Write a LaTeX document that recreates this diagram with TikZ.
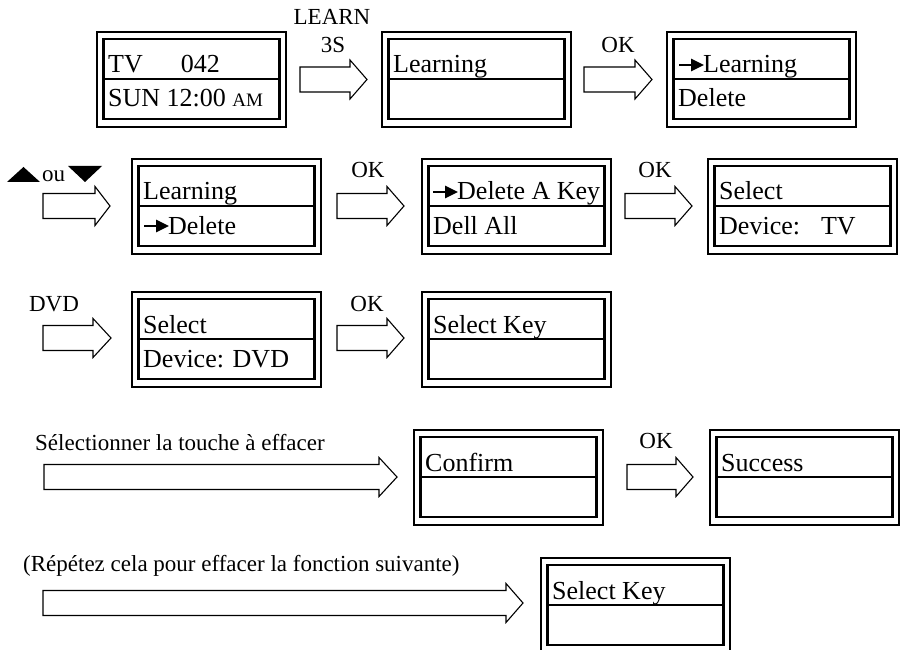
\documentclass[tikz,border=0pt]{standalone}
\usepackage{fontspec}
\setmainfont{Liberation Serif}
\usetikzlibrary{arrows.meta}
\tikzset{
  outerframe/.style={draw=black, line width=1.6pt},
  innerbox/.style={draw=black, line width=2.4pt, minimum width=176pt, minimum height=80pt, inner sep=0pt, outer sep=0pt},
  divider/.style={draw=black, line width=2pt},
  scrtext/.style={anchor=base west, inner sep=0pt, font=\fontsize{26}{26}\selectfont},
  lbl/.style={anchor=base, inner sep=0pt, font=\fontsize{23}{23}\selectfont},
  lblw/.style={anchor=base west, inner sep=0pt, font=\fontsize{23}{23}\selectfont},
  blockarrow/.style={draw=black, line width=1.1pt, fill=white},
  selarrow/.style={draw=black, line width=2.6pt, -{Triangle[length=13pt,width=12pt]}},
  tri/.style={fill=black, draw=none}
}
% name, x, y, line1, line2
\newcommand\screenbox[5]{%
  \draw[outerframe] (#2,#3) rectangle ++(189,95);
  \node[innerbox, anchor=north west] (#1) at (#2+6.5,#3+7) {};
  \draw[divider] (#1.west) -- (#1.east);
  \node[scrtext] (#1-a) at (#2+11,#3+41) {#4};
  \node[scrtext] (#1-b) at (#2+11,#3+75) {#5};
}
% name, x0, head start, tip, yc
\newcommand\blockarr[5]{%
  \coordinate (#1) at (#2,#5);
  \draw[blockarrow] (#1) ++(0,-12.5) -- (#3,#5-12.5) -- (#3,#5-19.5) -- (#4,#5)
     -- (#3,#5+19.5) -- (#3,#5+12.5) -- (#2,#5+12.5) -- cycle;
}
\begin{document}
\begin{tikzpicture}[x=1pt,y=-1pt]
\useasboundingbox (0,0) rectangle (900,650);

% Row 1
\screenbox{A}{97}{32}{TV\hspace{38pt}042}{SUN 12:00 {\fontsize{19}{19}\selectfont AM}}
\blockarr{a1}{300}{350}{367}{79.5}
\node[lbl] (l1) at (332,25) {LEARN};
\node[lbl] (l2) at (333,53) {3S};
\screenbox{B}{382}{32}{Learning}{}
\blockarr{a2}{584}{635}{652}{79.5}
\node[lbl] (l3) at (618,53) {OK};
\screenbox{C}{667}{32}{\hspace*{25pt}Learning}{Delete}
\draw[selarrow] ([xshift=1pt,yshift=8pt]C-a.base west) -- ++(25,0);

% Row 2
\fill[tri] (7,182) -- (23.5,167) -- (40,182) -- cycle;
\node[lblw] (ou) at (42,182) {ou};
\fill[tri] (68,166) -- (102,166) -- (85,182) -- cycle;
\blockarr{a3}{43}{95}{110}{206}
\screenbox{D}{132}{159}{Learning}{\hspace*{25pt}Delete}
\draw[selarrow] ([xshift=1pt,yshift=8pt]D-b.base west) -- ++(25,0);
\blockarr{a4}{337}{387}{404}{206}
\node[lbl] (l4) at (368,178) {OK};
\screenbox{E}{422}{159}{\hspace*{24pt}Delete A Key}{Dell All}
\draw[selarrow] ([xshift=0pt,yshift=8pt]E-a.base west) -- ++(25,0);
\blockarr{a5}{625}{675}{692}{206}
\node[lbl] (l5) at (655,178) {OK};
\screenbox{F}{708}{159}{Select}{Device:\hspace{21pt}TV}

% Row 3
\node[lbl] (l6) at (54,311) {DVD};
\blockarr{a6}{43}{93}{111}{338}
\screenbox{G}{132}{292}{Select}{Device: DVD}
\blockarr{a7}{337}{387}{404}{338}
\node[lbl] (l7) at (367,311) {OK};
\screenbox{H}{422}{292}{Select Key}{}

% Row 4
\node[lblw] (l8) at (35,450) {Sélectionner la touche à effacer};
\blockarr{a8}{44}{379}{397}{477}
\screenbox{I}{414}{430}{Confirm}{}
\blockarr{a9}{627}{676}{693}{477}
\node[lbl] (l9) at (656,448) {OK};
\screenbox{J}{710}{430}{Success}{}

% Row 5
\node[lblw] (l10) at (23,571) {(Répétez cela pour effacer la fonction suivante)};
\blockarr{a10}{43}{506}{523}{603}
\screenbox{K}{541}{558}{Select Key}{}
\end{tikzpicture}
\end{document}
